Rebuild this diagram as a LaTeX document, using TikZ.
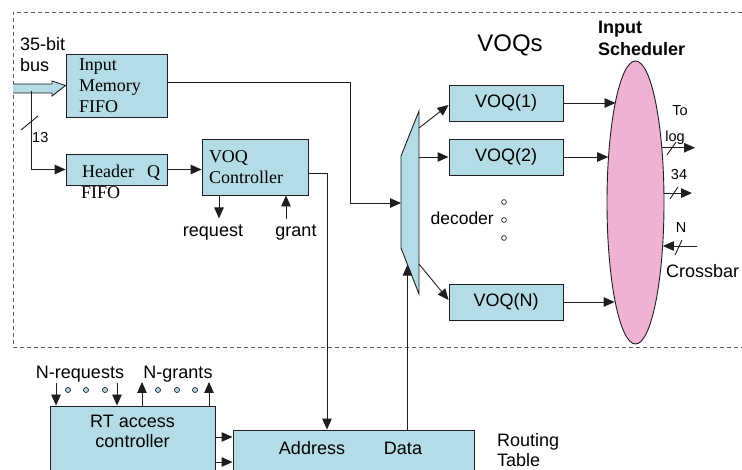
\documentclass[tikz,border=0pt]{standalone}
\usepackage{fontspec}
\setmainfont{Liberation Sans}
\newfontfamily\tms{Liberation Serif}
\usetikzlibrary{arrows.meta,shapes.geometric,calc}
\definecolor{boxblue}{RGB}{180,220,230}
\definecolor{schedpink}{RGB}{240,178,210}
\definecolor{linec}{RGB}{30,30,30}
\definecolor{dashc}{RGB}{95,95,95}
\begin{document}
\begin{tikzpicture}[x=1pt,y=-1pt,
  box/.style={draw=linec, fill=boxblue, line width=0.9pt, inner sep=0pt},
  wire/.style={draw=linec, line width=0.9pt},
  arr/.style={wire, -{Triangle[length=11pt,width=9.5pt]}},
  frame/.style={draw=dashc, line width=0.8pt, dash pattern=on 4pt off 3pt},
  sans/.style={font=\fontsize{18}{20}\selectfont},
  sanssm/.style={font=\fontsize{14.5}{17}\selectfont},
  sansbf/.style={font=\bfseries\fontsize{18}{22}\selectfont},
  serif/.style={font=\tms\fontsize{18}{21}\selectfont},
  txt/.style={inner sep=0pt},
  dotc/.style={draw=linec, line width=0.7pt},
]
\useasboundingbox (0,0) rectangle (742,470);
\fill[white] (0,0) rectangle (742,470);
\clip (0,0) rectangle (742,470);

% input port region
\draw[frame] (742,12) -- (13,12) -- (13,347) -- (742,347);

% buffers and controller
\node[box, serif, minimum width=101pt, minimum height=63pt, inner xsep=13pt,
      text width=75pt, align=left] (imf) at (116.5,85.5) {Input\\Memory\\FIFO};
\node[box, minimum width=101pt, minimum height=31pt] (hf) at (116.5,169.5) {};
\node[txt, serif, anchor=base west] at (82,178) {Header\hspace{13pt}Q};
\node[txt, serif, anchor=base west] at (81,199) {FIFO};
\node[box, serif, minimum width=106pt, minimum height=56pt, inner xsep=7pt,
      text width=92pt, align=left] (vc) at (255,167) {VOQ\\Controller};

% 35-bit input bus
\node[txt, sans, anchor=north west, align=left, font=\fontsize{18}{21}\selectfont]
  (buslbl) at (20,37) {35-bit\\bus};
\draw[wire, fill=boxblue] (13,84) -- (52,84) -- (52,81) -- (imf.west) -- (52,96)
  -- (52,93) -- (13,93);
\coordinate (tap) at (31,91);
\draw[arr] (tap) |- (hf.west);
\draw[wire] (21,130) -- (38,116);
\node[txt, sanssm, anchor=base west] at (32,143) {13};

\draw[arr] (hf.east) -- (hf.east -| vc.west);
\draw[arr] ([xshift=-36pt]vc.south) -- ++(0,23);
\draw[arr] ([xshift=31pt]vc.south) ++(0,24) -- ([xshift=31pt]vc.south);
\node[txt, sans, anchor=base] at (213,237) {request};
\node[txt, sans, anchor=base] at (296,237) {grant};

% decoder
\draw[box] (401,156) -- (419,111) -- (419,294) -- (401,248) -- cycle;
\coordinate (decin) at (401,203);
\coordinate (dec1) at (419,128);
\coordinate (dec2) at (419,157);
\coordinate (decn) at (419,264);
\coordinate (decdata) at (407.5,264.6);
\node[txt, font=\fontsize{17.5}{20}\selectfont, anchor=base east] at (494,225) {decoder};
\foreach \yy in {202,220,238} \draw[dotc, fill=white] (504,\yy) circle[radius=2.4pt];

% virtual output queues
\node[txt, font=\fontsize{24}{28}\selectfont, anchor=base] at (510,52) {VOQs};
\node[box, sans, minimum width=114pt, minimum height=36pt] (v1) at (506,103) {VOQ(1)};
\node[box, sans, minimum width=114pt, minimum height=36pt] (v2) at (506,157) {VOQ(2)};
\node[box, sans, minimum width=114pt, minimum height=36pt] (vn) at (506,302) {VOQ(N)};

\draw[arr] ([yshift=3.5pt]imf.east) -| ([xshift=-51pt]decin) -- (decin);
\draw[arr] (dec1) -- ([yshift=-2pt]v1.west);
\draw[arr] (dec2) -- (dec2 -| v2.west);
\draw[arr] (decn) -- ([yshift=2pt]vn.west);

% input scheduler
\node[txt, sansbf, anchor=north west, align=left] at (598,21) {Input\\Scheduler};
\node[draw=linec, fill=schedpink, ellipse, line width=0.9pt, inner sep=0pt,
      minimum width=57pt, minimum height=283pt] (ell) at (635.5,202.5) {};
\draw[arr] (v1.east) -- (v1.east -| ell.101.5);
\draw[arr] (v2.east) -- (v2.east -| ell.120.7);
\draw[arr] (vn.east) -- (vn.east -| ell.258.5);

% crossbar interface
\draw[arr] (ell.64.7) -- (ell.64.7 -| 695,0);
\draw[wire] (667,155) -- (676,142);
\draw[arr] (ell.18.5) -- (ell.18.5 -| 692,0);
\draw[wire] (670,199) -- (678,187);
\coordinate (xin) at (697,246);
\draw[arr] (xin) -- (xin -| ell.301.9);
\draw[wire] (675,255) -- (682,240);
\node[txt, sanssm, anchor=base] at (680,116) {To};
\node[txt, sanssm, anchor=base] at (675,141.5) {log};
\node[txt, sanssm, anchor=base] at (679,180) {34};
\node[txt, sanssm, anchor=base] at (681,233) {N};
\node[txt, sans, anchor=base west] at (666,278) {Crossbar};

% routing table access
\node[box, minimum width=165pt, minimum height=94pt] (rac) at (132.5,453) {};
\node[txt, sans, anchor=north, align=center] at (132.5,415) {RT access\\controller};
\node[box, minimum width=241pt, minimum height=70pt] (rt) at (353.5,465) {};
\node[txt, sans, anchor=base] at (312,454) {Address};
\node[txt, sans, anchor=base] at (403,454) {Data};
\node[txt, sans, anchor=north west, align=left] at (497,433) {Routing\\Table};

\draw[arr] (rac.east |- 0,437) -- (rt.west |- 0,437);
\draw[arr] (rac.east |- 0,462) -- (rt.west |- 0,462);
\draw[arr] ([yshift=-6pt]vc.east) -| ([xshift=-26.5pt]rt.north);
\draw[arr] ([xshift=54pt]rt.north) -- (decdata);

\node[txt, sans, anchor=base] at (80,379) {N-requests};
\node[txt, sans, anchor=base] at (178,379) {N-grants};
\draw[arr] (56,383) -- (rac.north -| 56,0);
\draw[arr] (117,383) -- (rac.north -| 117,0);
\draw[arr] (rac.north -| 142,0) -- (142,382);
\draw[arr] (rac.north -| 209,0) -- (209,382);
\foreach \xx in {68,86,105,158,177,195} \draw[dotc, fill=boxblue] (\xx,390) circle[radius=2.5pt];
\end{tikzpicture}
\end{document}
